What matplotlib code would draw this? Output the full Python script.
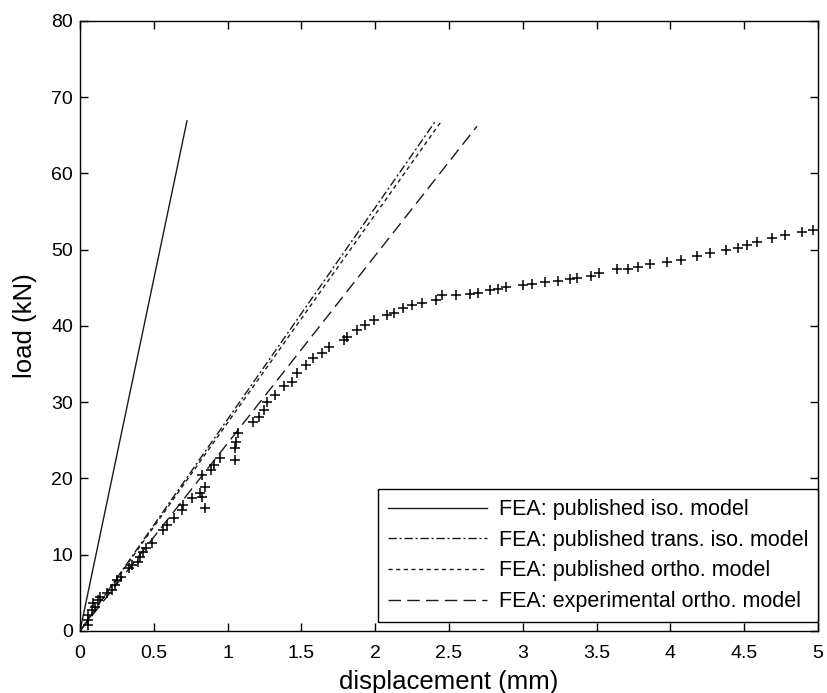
import numpy as np
import matplotlib
matplotlib.use("Agg")
import matplotlib.pyplot as plt
from matplotlib.ticker import FuncFormatter

plt.rcParams['font.family'] = ['Liberation Sans', 'DejaVu Sans']

# FEA model lines: (displacement, load) end points, starting at origin
iso_x = [0.0, 0.725]
iso_y = [0.0, 66.9]
trans_x = [0.0, 2.41]
trans_y = [0.0, 66.9]
ortho_x = [0.0, 2.45]
ortho_y = [0.0, 66.9]
exp_x = [0.0, 2.69]
exp_y = [0.0, 66.2]

# experimental data (+ markers)
test_x = [0.054, 0.054, 0.054, 0.081, 0.10, 0.088, 0.12, 0.135, 0.18, 0.22,
          0.24, 0.25, 0.28, 0.33, 0.35, 0.39, 0.41, 0.43, 0.45, 0.49,
          0.56, 0.59, 0.64, 0.69, 0.70, 0.76, 0.81, 0.83, 0.85, 0.85,
          0.83, 0.89, 0.91, 0.95, 1.05, 1.05, 1.06, 1.07, 1.17, 1.21,
          1.25, 1.27, 1.32, 1.38, 1.44, 1.47, 1.53, 1.58, 1.64, 1.69,
          1.79, 1.81, 1.88, 1.93, 1.99, 2.08, 2.13, 2.19, 2.25, 2.32,
          2.41, 2.45, 2.55, 2.64, 2.70, 2.78, 2.83, 2.89, 3.00, 3.06,
          3.15, 3.24, 3.32, 3.37, 3.46, 3.52, 3.64, 3.71, 3.78, 3.86,
          3.98, 4.07, 4.18, 4.27, 4.38, 4.46, 4.52, 4.59, 4.69, 4.78,
          4.89, 4.97]
test_y = [0.8, 1.4, 2.1, 2.75, 3.1, 3.7, 4.1, 4.5, 5.0, 5.4,
          6.0, 6.7, 7.1, 8.3, 8.7, 9.0, 9.7, 10.4, 10.9, 11.5,
          13.2, 13.9, 14.8, 15.9, 16.5, 17.4, 18.1, 17.6, 16.1, 18.9,
          20.5, 21.1, 21.8, 22.7, 22.4, 24.0, 24.8, 26.0, 27.4, 28.1,
          29.0, 30.0, 31.0, 32.1, 32.7, 33.8, 34.9, 35.8, 36.5, 37.2,
          38.2, 38.6, 39.5, 40.1, 40.8, 41.4, 41.7, 42.4, 42.8, 43.0,
          43.4, 44.1, 44.1, 44.2, 44.3, 44.7, 44.9, 45.1, 45.4, 45.5,
          45.8, 45.9, 46.2, 46.3, 46.6, 47.0, 47.5, 47.5, 47.7, 48.1,
          48.4, 48.7, 49.2, 49.6, 50.0, 50.2, 50.6, 51.0, 51.5, 51.9,
          52.3, 52.6]

x_ticks = np.arange(0, 5.01, 0.5)
y_ticks = np.arange(0, 81, 10)

fig = plt.figure(figsize=(8.27, 6.93), dpi=100)
ax = fig.add_axes([0.0967, 0.0895, 0.8923, 0.8802])

lc = '#1a1a1a'
ax.plot(iso_x, iso_y, '-', color=lc, lw=1.0, label='FEA: published iso. model')
ax.plot(trans_x, trans_y, color=lc, lw=1.0, dashes=[6, 2, 1.5, 2],
        label='FEA: published trans. iso. model')
ax.plot(ortho_x, ortho_y, color=lc, lw=1.0, dashes=[3, 2.5],
        label='FEA: published ortho. model')
ax.plot(exp_x, exp_y, color=lc, lw=1.0, dashes=[9, 4.5],
        label='FEA: experimental ortho. model')
ax.plot(test_x, test_y, '+', color='black', ms=7, mew=1.1)

ax.set_xlim(0, 5)
ax.set_ylim(0, 80)
ax.set_xticks(x_ticks)
ax.set_yticks(y_ticks)
ax.xaxis.set_major_formatter(FuncFormatter(lambda v, p: '%g' % v))
ax.tick_params(direction='in', top=True, right=True, length=6, width=1,
               labelsize=14)
ax.tick_params(axis='x', pad=10)
ax.tick_params(axis='y', pad=5)
for s in ax.spines.values():
    s.set_linewidth(1.0)

ax.set_xlabel('displacement (mm)', fontsize=18.5, labelpad=6)
ax.set_ylabel('load (kN)', fontsize=18.5, labelpad=10)

leg = ax.legend(loc='lower right', bbox_to_anchor=(1.0, 0.015),
                borderaxespad=0, fontsize=15.5, handlelength=4.6,
                fancybox=False, framealpha=1, edgecolor='black',
                labelspacing=0.45, handletextpad=0.55, borderpad=0.45)
leg.get_frame().set_linewidth(1.0)

fig.savefig('out.png', dpi=100)
